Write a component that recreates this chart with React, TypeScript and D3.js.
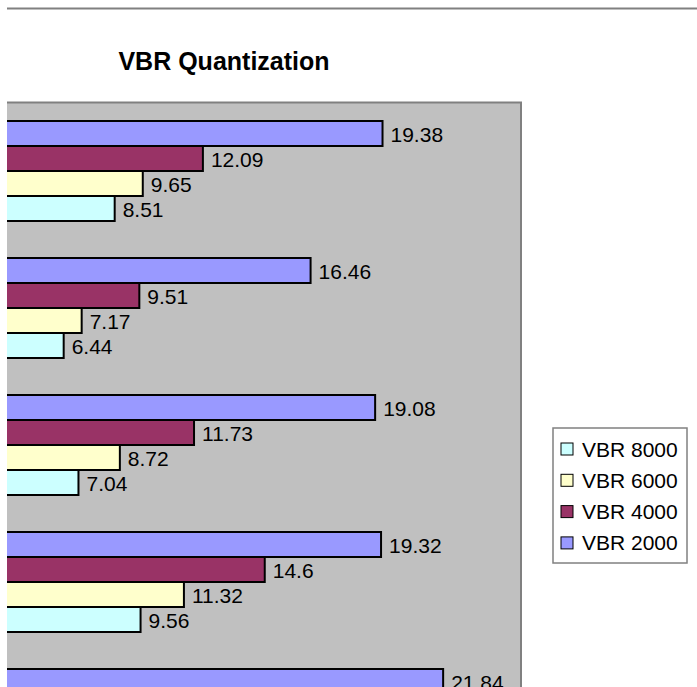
import React from "react";
import * as d3 from "d3";

const categories = ["1", "2", "3", "4", "5"];
const seriesNames = ["VBR 2000", "VBR 4000", "VBR 6000", "VBR 8000"];
const vbr2000 = [19.38, 16.46, 19.08, 19.32, 21.84];
const vbr4000: (number | null)[] = [12.09, 9.51, 11.73, 14.6, null];
const vbr6000: (number | null)[] = [9.65, 7.17, 8.72, 11.32, null];
const vbr8000: (number | null)[] = [8.51, 6.44, 7.04, 9.56, null];
const seriesValues = [vbr2000, vbr4000, vbr6000, vbr8000];
const seriesColors = ["#9999FF", "#993366", "#FFFFCC", "#CCFFFF"];
const legendOrder = ["VBR 8000", "VBR 6000", "VBR 4000", "VBR 2000"];
const xDomain = [0, 25];

export default function App() {
  const W = 697, H = 687;
  const plotTop = 102.5, plotRight = 521, clipLeft = 7;
  const step = 137;
  const x = d3.scaleLinear().domain(xDomain).range([-95, plotRight]);
  const y = d3
    .scaleBand<string>()
    .domain(categories)
    .range([plotTop, plotTop + step * categories.length])
    .paddingInner(37 / 137)
    .paddingOuter(18.5 / 137);
  const sub = d3.scaleBand<string>().domain(seriesNames).range([0, y.bandwidth()]);
  const font = "Arial, 'Liberation Sans', sans-serif";

  return (
    <svg width={W} height={H} style={{ position: "absolute", left: 0, top: 0, background: "#fff" }}>
      <defs>
        <clipPath id="plotclip">
          <rect x={clipLeft} y={0} width={W} height={H} />
        </clipPath>
      </defs>
      <line x1={clipLeft} x2={W} y1={8.5} y2={8.5} stroke="#808080" strokeWidth={2} />
      <text x={224} y={70} textAnchor="middle" fontFamily={font} fontWeight="bold" fontSize={25} fill="#000">
        VBR Quantization
      </text>
      <g clipPath="url(#plotclip)">
        <rect x={-200} y={plotTop} width={plotRight + 200} height={H} fill="#C0C0C0" stroke="#808080" strokeWidth={2} />
        {categories.map((c, ci) =>
          seriesNames.map((s, si) => {
            const v = seriesValues[si][ci];
            if (v == null) return null;
            const by = (y(c) as number) + (sub(s) as number);
            const bh = sub.bandwidth();
            return (
              <g key={c + s}>
                <rect x={x(0)} y={by} width={x(v) - x(0)} height={bh} fill={seriesColors[si]} stroke="#000" strokeWidth={2} />
                <text x={x(v) + 8} y={by + bh / 2 + 8} fontFamily={font} fontSize={21} fill="#000">
                  {String(v)}
                </text>
              </g>
            );
          })
        )}
      </g>
      <g>
        <rect x={553} y={428} width={134} height={135} fill="#fff" stroke="#808080" strokeWidth={1.5} />
        {legendOrder.map((name, i) => {
          const si = seriesNames.indexOf(name);
          const cy = 449 + i * 31.3;
          return (
            <g key={name}>
              <rect x={561} y={cy - 6} width={12} height={12} fill={seriesColors[si]} stroke="#000" strokeWidth={1} />
              <text x={582} y={cy + 7.5} fontFamily={font} fontSize={21} fill="#000">
                {name}
              </text>
            </g>
          );
        })}
      </g>
    </svg>
  );
}
